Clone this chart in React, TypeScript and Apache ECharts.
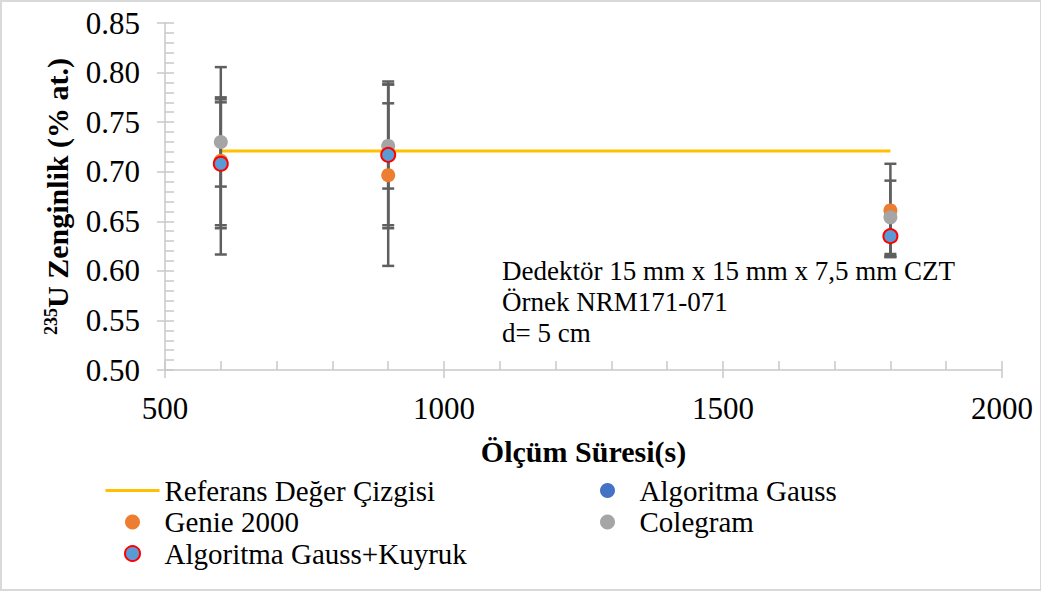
import React, { useEffect, useRef } from "react";
import * as echarts from "echarts";

// Measurement times (s)
const times = [600, 900, 1800];

// Reference enrichment line
const refValue = 0.721;
const refRange = [600, 1800];

// Enrichment results (% at.) and their uncertainties
const genieValues = [0.711, 0.6965, 0.661];
const genieErrors = [0.0945, 0.0915, 0.047];

const gaussValues = [0.708, 0.717, 0.635];
const gaussErrors = [0.065, 0.071, 0.02];

const colegramValues = [0.73, 0.726, 0.654];
const colegramErrors = [0.045, 0.043, 0.037];

const tailValues = [0.708, 0.717, 0.635];
const tailErrors = [0.062, 0.074, 0.021];

const yTicks = { min: 0.5, max: 0.85, step: 0.05 };
const xTicks = { min: 500, max: 2000, step: 500 };

const annotationLines = [
  "Dedektör 15 mm x 15 mm x 7,5 mm CZT",
  "Örnek NRM171-071",
  "d= 5 cm",
];

const FONT = "Liberation Serif";

const pairs = (vals: number[]) => times.map((t, i) => [t, vals[i]]);
const bars = (vals: number[], errs: number[]) =>
  times.map((t, i) => [t, vals[i] - errs[i], vals[i] + errs[i]]);

function errorSeries(name: string, vals: number[], errs: number[]) {
  return {
    type: "custom",
    name: name + " hata",
    silent: true,
    z: 2,
    data: bars(vals, errs),
    renderItem: (params: any, api: any) => {
      const x = api.value(0);
      const lo = api.coord([x, api.value(1)]);
      const hi = api.coord([x, api.value(2)]);
      const half = 6;
      const style = { stroke: "#5f5f5f", lineWidth: 2.5 };
      return {
        type: "group",
        children: [
          { type: "line", shape: { x1: lo[0], y1: lo[1], x2: hi[0], y2: hi[1] }, style },
          { type: "line", shape: { x1: lo[0] - half, y1: lo[1], x2: lo[0] + half, y2: lo[1] }, style },
          { type: "line", shape: { x1: hi[0] - half, y1: hi[1], x2: hi[0] + half, y2: hi[1] }, style },
        ],
      };
    },
  };
}

export default function App() {
  const ref = useRef<HTMLDivElement>(null);

  useEffect(() => {
    if (!ref.current) return;
    const chart = echarts.init(ref.current, undefined, { renderer: "svg" });

    const axisColor = "#c9c9c9";
    const labelStyle = { color: "#000", fontFamily: FONT, fontSize: 31 };
    const legendText = { color: "#000", fontFamily: FONT, fontSize: 29, lineHeight: 22 };

    chart.setOption({
      animation: false,
      backgroundColor: "#fff",
      textStyle: { fontFamily: FONT },
      grid: { left: 165, right: 39, top: 23, bottom: 226 },
      xAxis: [
        {
          type: "value",
          min: xTicks.min,
          max: xTicks.max,
          interval: xTicks.step,
          axisLine: { show: true, lineStyle: { color: axisColor, width: 1.5 } },
          axisTick: { show: true, inside: true, length: 9, lineStyle: { color: axisColor, width: 1.5 } },
          minorTick: { show: true, splitNumber: 5, length: 9, lineStyle: { color: axisColor, width: 1.5 } },
          splitLine: { show: false },
          axisLabel: { ...labelStyle, margin: 23, formatter: (v: number) => String(v) },
          name: "Ölçüm Süresi(s)",
          nameLocation: "middle",
          nameGap: 66,
          nameTextStyle: { color: "#000", fontFamily: FONT, fontSize: 30, fontWeight: "bold" },
        },
        {
          type: "value",
          position: "bottom",
          min: xTicks.min,
          max: xTicks.max,
          interval: xTicks.step,
          axisLine: { show: false },
          axisTick: { show: true, inside: false, length: 8, lineStyle: { color: axisColor, width: 1.5 } },
          axisLabel: { show: false },
          splitLine: { show: false },
        },
      ],
      yAxis: [
        {
          type: "value",
          min: yTicks.min,
          max: yTicks.max,
          interval: yTicks.step,
          axisLine: { show: true, lineStyle: { color: axisColor, width: 1.5 } },
          axisTick: { show: true, inside: true, length: 9, lineStyle: { color: axisColor, width: 1.5 } },
          minorTick: { show: true, splitNumber: 5, length: 9, lineStyle: { color: axisColor, width: 1.5 } },
          splitLine: { show: false },
          axisLabel: { ...labelStyle, margin: 25, formatter: (v: number) => v.toFixed(2) },
          name: "{s|235}{b|U Zenginlik (% at.)}",
          nameLocation: "middle",
          nameRotate: 90,
          nameGap: 93,
          nameTextStyle: {
            rich: {
              s: { fontFamily: FONT, fontSize: 18, fontWeight: "bold", color: "#000", verticalAlign: "top", lineHeight: 30 },
              b: { fontFamily: FONT, fontSize: 30, fontWeight: "bold", color: "#000", lineHeight: 30 },
            },
          },
        },
        {
          type: "value",
          position: "left",
          min: yTicks.min,
          max: yTicks.max,
          interval: yTicks.step,
          axisLine: { show: false },
          axisTick: { show: true, inside: false, length: 8, lineStyle: { color: axisColor, width: 1.5 } },
          axisLabel: { show: false },
          splitLine: { show: false },
        },
      ],
      legend: [
        {
          orient: "vertical",
          align: "left",
          left: 104,
          top: 476,
          itemWidth: 54,
          itemHeight: 15,
          itemGap: 2.5,
          padding: 0,
          textStyle: legendText,
          data: [
            { name: "Referans Değer Çizgisi", itemStyle: { opacity: 0 }, lineStyle: { width: 3 } },
            "Genie 2000",
            "Algoritma Gauss+Kuyruk",
          ],
        },
        {
          orient: "vertical",
          align: "left",
          left: 600,
          top: 476,
          itemWidth: 54,
          itemHeight: 15,
          itemGap: 2.5,
          padding: 0,
          textStyle: legendText,
          data: ["Algoritma Gauss", "Colegram"],
        },
      ],
      graphic: [
        {
          type: "rect",
          silent: true,
          shape: { x: 1, y: 1, width: 1040, height: 589 },
          style: { fill: "none", stroke: "#d9d9d9", lineWidth: 2 },
        },
        {
          type: "text",
          left: 502,
          top: 255,
          style: {
            text: annotationLines.join("\n"),
            fontFamily: FONT,
            fontSize: 27,
            lineHeight: 31,
            fill: "#000",
          },
        },
      ],
      series: [
        {
          name: "Referans Değer Çizgisi",
          type: "line",
          data: refRange.map((t) => [t, refValue]),
          symbol: "none",
          lineStyle: { color: "#FFC000", width: 3 },
          itemStyle: { color: "#FFC000" },
          z: 1,
        },
        errorSeries("Algoritma Gauss", gaussValues, gaussErrors),
        errorSeries("Genie 2000", genieValues, genieErrors),
        errorSeries("Colegram", colegramValues, colegramErrors),
        errorSeries("Algoritma Gauss+Kuyruk", tailValues, tailErrors),
        {
          name: "Algoritma Gauss",
          type: "scatter",
          data: pairs(gaussValues),
          symbolSize: 14,
          itemStyle: { color: "#4472C4", opacity: 1 },
          z: 3,
        },
        {
          name: "Genie 2000",
          type: "scatter",
          data: pairs(genieValues),
          symbolSize: 14,
          itemStyle: { color: "#ED7D31", opacity: 1 },
          z: 3,
        },
        {
          name: "Colegram",
          type: "scatter",
          data: pairs(colegramValues),
          symbolSize: 14,
          itemStyle: { color: "#A5A5A5", opacity: 1 },
          z: 3,
        },
        {
          name: "Algoritma Gauss+Kuyruk",
          type: "scatter",
          data: pairs(tailValues),
          symbolSize: 14,
          itemStyle: { color: "#5B9BD5", borderColor: "#FF0000", borderWidth: 2, opacity: 1 },
          z: 4,
        },
      ],
    });

    return () => chart.dispose();
  }, []);

  return (
    <div
      ref={ref}
      style={{ position: "absolute", left: 0, top: 0, width: 1041, height: 596 }}
    />
  );
}
